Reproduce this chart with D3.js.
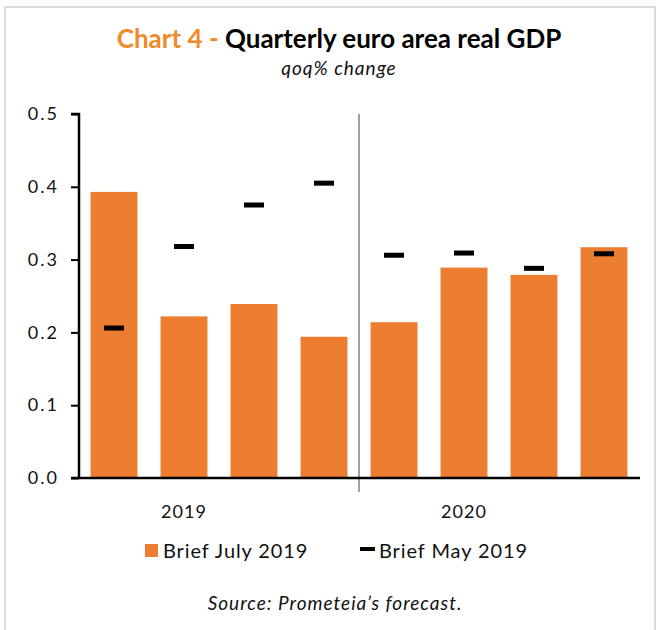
<!DOCTYPE html>
<html>
<head>
<meta charset="utf-8">
<script src="https://cdn.jsdelivr.net/npm/d3@7"></script>
<style>
  body { margin: 0; background: #fff; }
  svg text { font-family: Lato, "Open Sans", sans-serif; }
</style>
</head>
<body>
<div id="chart"></div>
<script>
// data
const quarters = ["2019Q1", "2019Q2", "2019Q3", "2019Q4", "2020Q1", "2020Q2", "2020Q3", "2020Q4"];
const briefJuly = [0.393, 0.222, 0.239, 0.194, 0.214, 0.289, 0.279, 0.317];
const briefMay = [0.206, 0.318, 0.375, 0.405, 0.306, 0.309, 0.288, 0.308];
const yearLabels = ["2019", "2020"];
const yearLabelAt = ["2019Q2", "2020Q2"];
const yTicks = [0, 0.1, 0.2, 0.3, 0.4, 0.5];

const W = 656, H = 630;
const margin = { top: 114, right: 17, bottom: 152, left: 79 },
    width = W - margin.left - margin.right,
    height = H - margin.top - margin.bottom;

const svg = d3.select("#chart")
    .append("svg")
    .attr("width", W)
    .attr("height", H);

// frame
svg.append("rect")
    .attr("x", 5).attr("y", 7)
    .attr("width", 650).attr("height", 640)
    .attr("fill", "none")
    .attr("stroke", "#dcdcdc")
    .attr("stroke-width", 2);

// title
const title = svg.append("text")
    .attr("x", 339).attr("y", 48)
    .attr("text-anchor", "middle")
    .style("font-size", "26px")
    .style("font-weight", "bold");
title.append("tspan").attr("fill", "#f08a2b").text("Chart 4 - ");
title.append("tspan").attr("fill", "#000").text("Quarterly euro area real GDP");

svg.append("text")
    .attr("x", 339).attr("y", 75)
    .attr("text-anchor", "middle")
    .style("font-size", "19px")
    .style("letter-spacing", "1px")
    .style("font-style", "italic")
    .attr("fill", "#111")
    .text("qoq% change");

const g = svg.append("g")
    .attr("transform", `translate(${margin.left}, ${margin.top})`);

// scales
const x = d3.scaleBand()
    .domain(quarters)
    .range([0, width])
    .paddingInner(0.33)
    .paddingOuter(0.165);

const y = d3.scaleLinear()
    .domain([0, 0.5])
    .range([height, 0]);

// bars
g.selectAll(".bar")
    .data(briefJuly)
    .join("rect")
    .attr("class", "bar")
    .attr("x", (d, i) => x(quarters[i]))
    .attr("y", d => y(d))
    .attr("width", x.bandwidth())
    .attr("height", d => height - y(d))
    .attr("fill", "#ed7d31");

// dashes
const dashW = 20, dashH = 5;
g.selectAll(".dash")
    .data(briefMay)
    .join("rect")
    .attr("class", "dash")
    .attr("x", (d, i) => x(quarters[i]) + x.bandwidth() / 2 - dashW / 2)
    .attr("y", d => y(d) - dashH / 2)
    .attr("width", dashW)
    .attr("height", dashH)
    .attr("fill", "#000");

// year divider
const divX = (x(quarters[3]) + x.bandwidth() + x(quarters[4])) / 2;
g.append("line")
    .attr("x1", divX).attr("x2", divX)
    .attr("y1", 0).attr("y2", height + 14)
    .attr("stroke", "#444")
    .attr("stroke-width", 1);

// y axis
const yAxis = g.append("g")
    .call(d3.axisLeft(y).tickValues(yTicks).tickFormat(d3.format(".1f")).tickSize(8).tickPadding(12));
yAxis.select(".domain").attr("stroke", "#000").attr("stroke-width", 2.5).attr("d", `M-8,0H0V${height}`);
yAxis.selectAll(".tick line").attr("stroke", "#000").attr("stroke-width", 2);
yAxis.selectAll(".tick text")
    .style("font-size", "18px")
    .style("letter-spacing", "2px")
    .attr("fill", "#111");

// x axis line
g.append("line")
    .attr("x1", -8).attr("x2", width + 1)
    .attr("y1", height).attr("y2", height)
    .attr("stroke", "#000")
    .attr("stroke-width", 2.5);

// year labels
g.selectAll(".year")
    .data(yearLabels)
    .join("text")
    .attr("class", "year")
    .attr("x", (d, i) => x(yearLabelAt[i]) + x.bandwidth() / 2)
    .attr("y", height + 40)
    .attr("text-anchor", "middle")
    .style("font-size", "18px")
    .style("letter-spacing", "1px")
    .attr("fill", "#111")
    .text(d => d);

// legend
const leg = svg.append("g");
leg.append("rect")
    .attr("x", 145).attr("y", 544)
    .attr("width", 13).attr("height", 13)
    .attr("fill", "#ed7d31");
leg.append("text")
    .attr("x", 163).attr("y", 558)
    .style("font-size", "20px")
    .style("letter-spacing", "0.9px")
    .attr("fill", "#111")
    .text("Brief July 2019");
leg.append("rect")
    .attr("x", 360).attr("y", 547)
    .attr("width", 15).attr("height", 4)
    .attr("fill", "#000");
leg.append("text")
    .attr("x", 379).attr("y", 558)
    .style("font-size", "20px")
    .style("letter-spacing", "0.9px")
    .attr("fill", "#111")
    .text("Brief May 2019");

// source
svg.append("text")
    .attr("x", 335).attr("y", 610)
    .attr("text-anchor", "middle")
    .style("font-size", "19px")
    .style("letter-spacing", "1px")
    .style("font-style", "italic")
    .attr("fill", "#111")
    .text("Source: Prometeia’s forecast.");
</script>
</body>
</html>
